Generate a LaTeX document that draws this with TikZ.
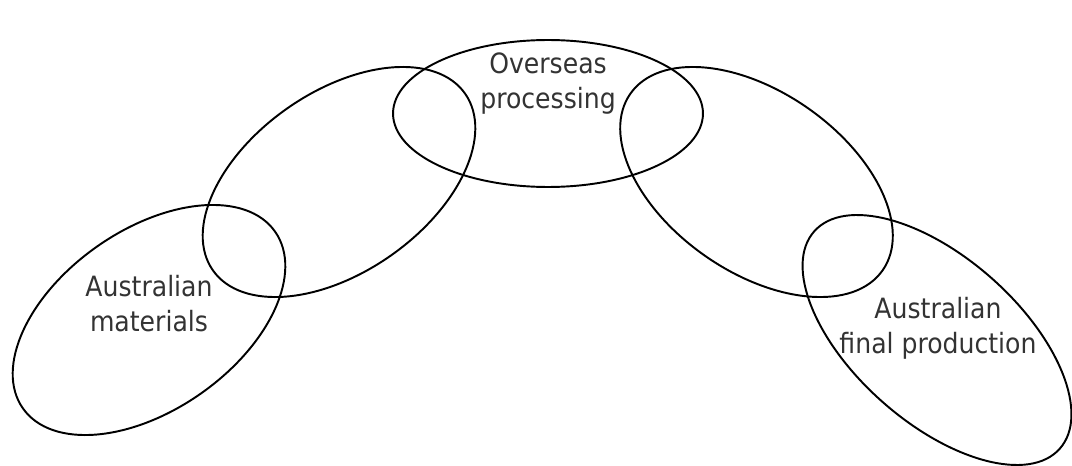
\documentclass[tikz,border=0pt]{standalone}
\usepackage{fontspec}
\setmainfont{DejaVu Sans Condensed}
\usetikzlibrary{shapes.geometric}

\begin{document}
\begin{tikzpicture}[x=0.02cm,y=-0.02cm,
  loop/.style={draw,ellipse,line width=1.1pt,inner sep=0pt},
  lbl/.style={align=center,text=black!80,font=\fontsize{15.9}{19.9}\selectfont}]
\useasboundingbox (0,0) rectangle (1072,466);
\node[loop,minimum width=6.16cm,minimum height=3.6cm,rotate=35] (mat) at (149,320) {};
\node[loop,minimum width=6.16cm,minimum height=3.6cm,rotate=35] (link1) at (339,182) {};
\node[loop,minimum width=6.2cm,minimum height=2.94cm] (over) at (548,113.5) {};
\node[loop,minimum width=6.16cm,minimum height=3.6cm,rotate=-35] (link2) at (756.5,182) {};
\node[loop,minimum width=6.56cm,minimum height=3.3cm,rotate=-41.5] (fin) at (937,340) {};
\node[lbl] (matlbl) at (149,304) {Australian\\materials};
\node[lbl] (overlbl) at (548,84) {Overseas\\processing};
\node[lbl] (finlbl) at (938,328) {Australian\\final production};
\end{tikzpicture}
\end{document}
